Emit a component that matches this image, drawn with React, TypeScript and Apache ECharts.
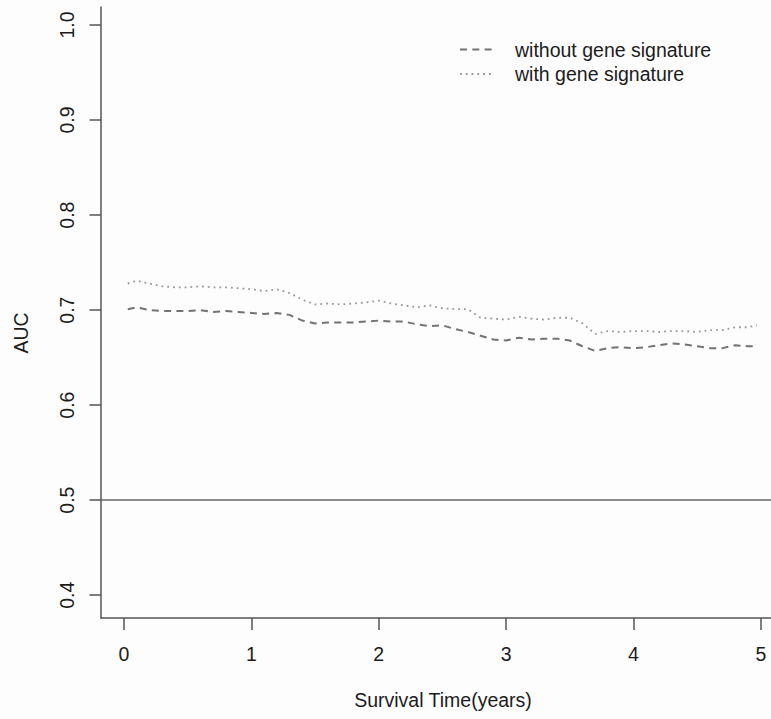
import React, { useEffect, useRef } from "react";
import * as echarts from "echarts";

// Survival time (years) at which AUC was evaluated
const times = [
  0.03, 0.1, 0.2, 0.3, 0.4, 0.5, 0.6, 0.7, 0.8, 0.9,
  1.0, 1.1, 1.2, 1.3, 1.4, 1.5, 1.6, 1.7, 1.8, 1.9,
  2.0, 2.1, 2.2, 2.3, 2.4, 2.5, 2.6, 2.7, 2.8, 2.9,
  3.0, 3.1, 3.2, 3.3, 3.4, 3.5, 3.6, 3.7, 3.8, 3.9,
  4.0, 4.1, 4.2, 4.3, 4.4, 4.5, 4.6, 4.7, 4.8, 4.9, 4.97,
];

const withoutSignature = [
  0.701, 0.703, 0.700, 0.699, 0.699, 0.699, 0.700, 0.698, 0.699, 0.698,
  0.697, 0.696, 0.697, 0.695, 0.689, 0.686, 0.687, 0.687, 0.687, 0.688,
  0.689, 0.688, 0.688, 0.685, 0.683, 0.684, 0.680, 0.677, 0.673, 0.669,
  0.668, 0.671, 0.669, 0.670, 0.670, 0.668, 0.662, 0.657, 0.660, 0.661,
  0.660, 0.661, 0.663, 0.665, 0.664, 0.662, 0.660, 0.660, 0.663, 0.662, 0.662,
];

const withSignature = [
  0.728, 0.731, 0.728, 0.725, 0.724, 0.724, 0.725, 0.724, 0.724, 0.723,
  0.722, 0.720, 0.722, 0.718, 0.711, 0.706, 0.707, 0.706, 0.707, 0.708,
  0.710, 0.707, 0.705, 0.703, 0.705, 0.702, 0.701, 0.701, 0.692, 0.691,
  0.690, 0.693, 0.691, 0.690, 0.692, 0.692, 0.686, 0.675, 0.678, 0.677,
  0.678, 0.678, 0.677, 0.678, 0.678, 0.677, 0.679, 0.679, 0.682, 0.682, 0.684,
];

const xTicks = [0, 1, 2, 3, 4, 5];
const yTicks = [0.4, 0.5, 0.6, 0.7, 0.8, 0.9, 1.0];
const referenceAUC = 0.5;

const seriesNames = ["without gene signature", "with gene signature"];
const xTitle = "Survival Time(years)";
const yTitle = "AUC";

const FONT = '"Liberation Sans", Arial, Helvetica, sans-serif';
const FS = 19.5;
const TEXT = "#1c1c1c";
const AXIS = "#555555";
const DASH_COLOR = "#737373";
const DOT_COLOR = "#999999";

export default function App() {
  const ref = useRef<HTMLDivElement>(null);

  useEffect(() => {
    document.body.style.margin = "0";
    if (!ref.current) return;
    const chart = echarts.init(ref.current, undefined, { renderer: "svg" });

    const option: any = {
      animation: false,
      backgroundColor: "#fdfdfd",
      grid: { left: 101, right: 0, top: 7, bottom: 101, containLabel: false },
      xAxis: {
        type: "value",
        min: -0.18,
        max: 5.08,
        axisLine: { show: true, onZero: false, lineStyle: { color: AXIS, width: 1.5 } },
        axisTick: {
          show: true,
          customValues: xTicks,
          length: 12,
          lineStyle: { color: AXIS, width: 1.5 },
        },
        axisLabel: {
          customValues: xTicks,
          margin: 26,
          color: TEXT,
          fontSize: FS,
          fontFamily: FONT,
          formatter: (v: number) => String(Math.round(v)),
        },
        splitLine: { show: false },
      },
      yAxis: {
        type: "value",
        min: 0.376,
        max: 1.019,
        axisLine: { show: true, onZero: false, lineStyle: { color: AXIS, width: 1.5 } },
        axisTick: {
          show: true,
          customValues: yTicks,
          length: 11.5,
          lineStyle: { color: AXIS, width: 1.5 },
        },
        axisLabel: {
          customValues: yTicks,
          rotate: 90,
          margin: 24,
          color: TEXT,
          fontSize: FS,
          fontFamily: FONT,
          formatter: (v: number) => v.toFixed(1),
        },
        splitLine: { show: false },
      },
      series: [
        {
          name: seriesNames[0],
          type: "line",
          showSymbol: false,
          data: times.map((t, i) => [t, withoutSignature[i]]),
          lineStyle: { color: DASH_COLOR, width: 2, type: [7, 5.3] },
          markLine: {
            silent: true,
            symbol: "none",
            label: { show: false },
            lineStyle: { color: "#666666", width: 1.5, type: "solid" },
            data: [{ yAxis: referenceAUC }],
          },
        },
        {
          name: seriesNames[1],
          type: "line",
          showSymbol: false,
          data: times.map((t, i) => [t, withSignature[i]]),
          lineStyle: { color: DOT_COLOR, width: 1.8, type: [1.8, 4], cap: "butt" },
        },
      ],
      graphic: [
        {
          type: "line",
          shape: { x1: 460, y1: 49.5, x2: 492, y2: 49.5 },
          style: { stroke: DASH_COLOR, lineWidth: 2, lineDash: [7, 5.3] },
        },
        {
          type: "line",
          shape: { x1: 460, y1: 74, x2: 492, y2: 74 },
          style: { stroke: DOT_COLOR, lineWidth: 1.8, lineDash: [1.8, 4] },
        },
        {
          type: "text",
          x: 515,
          y: 49.5,
          style: {
            text: seriesNames[0],
            fill: TEXT,
            fontSize: FS,
            fontFamily: FONT,
            verticalAlign: "middle",
            align: "left",
          },
        },
        {
          type: "text",
          x: 515,
          y: 74,
          style: {
            text: seriesNames[1],
            fill: TEXT,
            fontSize: FS,
            fontFamily: FONT,
            verticalAlign: "middle",
            align: "left",
          },
        },
        {
          type: "text",
          x: 443,
          y: 700,
          style: {
            text: xTitle,
            fill: TEXT,
            fontSize: FS,
            fontFamily: FONT,
            align: "center",
            verticalAlign: "middle",
          },
        },
        {
          type: "text",
          x: 21,
          y: 333,
          rotation: Math.PI / 2,
          style: {
            text: yTitle,
            fill: TEXT,
            fontSize: FS,
            fontFamily: FONT,
            align: "center",
            verticalAlign: "middle",
          },
        },
      ],
    };

    chart.setOption(option);
    return () => chart.dispose();
  }, []);

  return <div ref={ref} style={{ width: 771, height: 719 }} />;
}
